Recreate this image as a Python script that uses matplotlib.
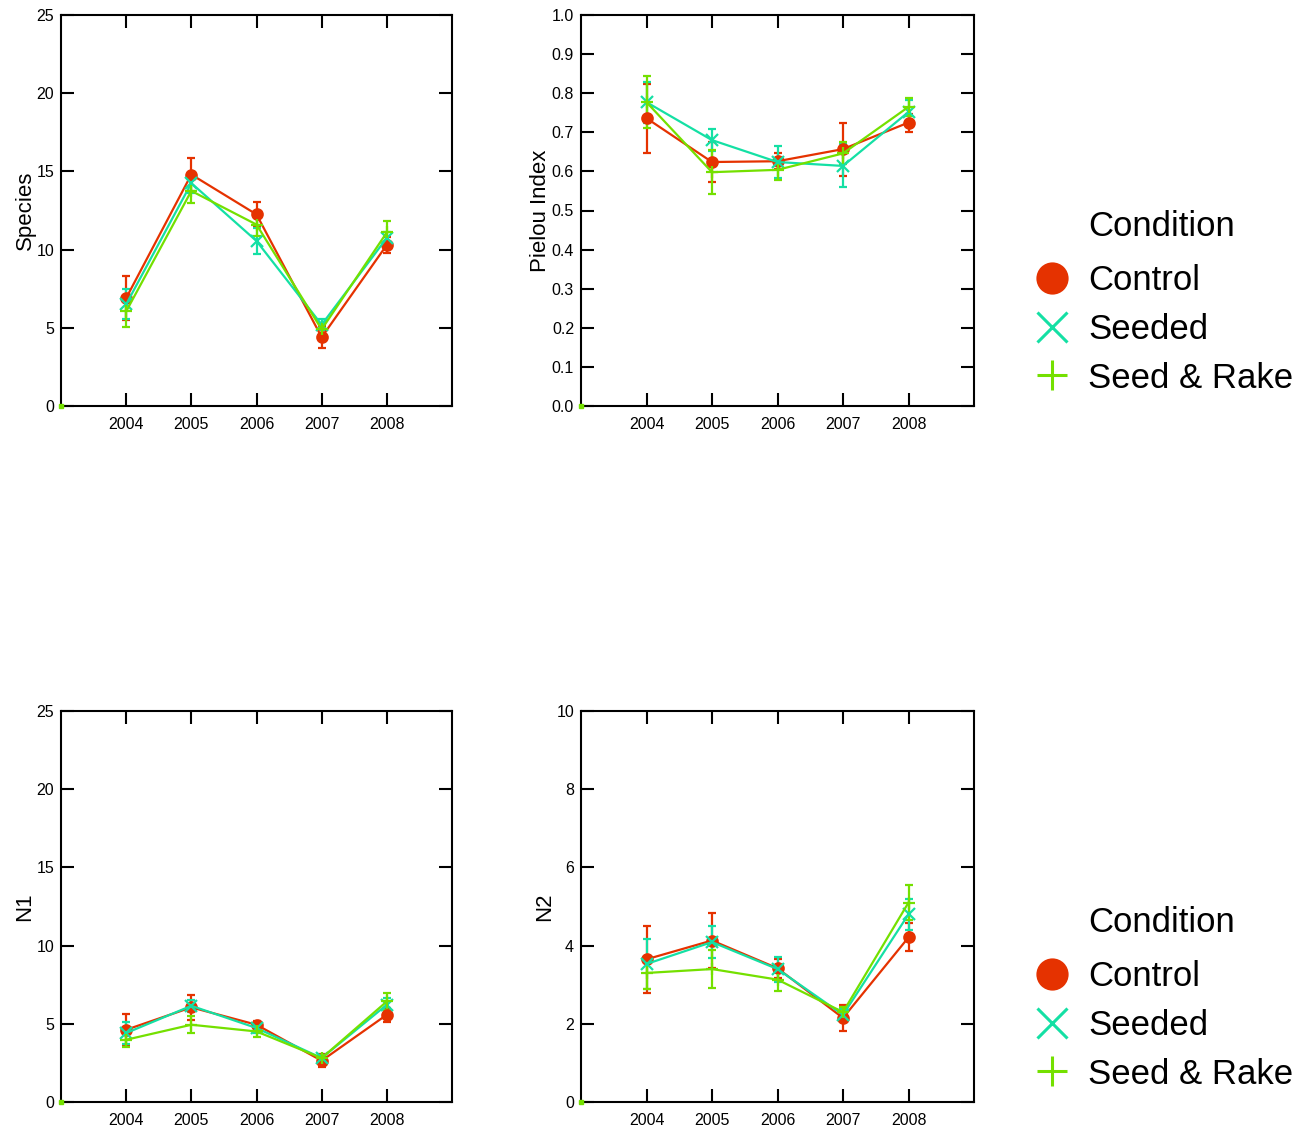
import matplotlib
matplotlib.use("Agg")
import matplotlib.pyplot as plt
from matplotlib.lines import Line2D

plt.rcParams['font.family'] = ['Liberation Sans', 'DejaVu Sans']

years = [2004, 2005, 2006, 2007, 2008]
conditions = ["Control", "Seeded", "Seed & Rake"]

# Species richness (mean, standard error)
species_control = [6.9, 14.8, 12.25, 4.4, 10.3]
species_control_se = [1.4, 1.05, 0.8, 0.7, 0.5]
species_seeded = [6.5, 14.25, 10.55, 5.2, 10.75]
species_seeded_se = [0.95, 0.65, 0.8, 0.35, 0.4]
species_rake = [6.05, 13.75, 11.6, 4.9, 11.1]
species_rake_se = [1.0, 0.8, 0.7, 0.4, 0.7]

# Pielou evenness
pielou_control = [0.736, 0.624, 0.626, 0.657, 0.725]
pielou_control_se = [0.088, 0.05, 0.02, 0.068, 0.023]
pielou_seeded = [0.777, 0.680, 0.624, 0.614, 0.752]
pielou_seeded_se = [0.052, 0.028, 0.04, 0.055, 0.03]
pielou_rake = [0.777, 0.598, 0.604, 0.646, 0.765]
pielou_rake_se = [0.066, 0.056, 0.027, 0.028, 0.024]

# Hill number N1
n1_control = [4.62, 6.05, 4.94, 2.64, 5.58]
n1_control_se = [1.0, 0.8, 0.25, 0.4, 0.45]
n1_seeded = [4.41, 6.15, 4.73, 2.81, 6.22]
n1_seeded_se = [0.7, 0.4, 0.3, 0.2, 0.4]
n1_rake = [3.98, 4.94, 4.51, 2.81, 6.43]
n1_rake_se = [0.45, 0.55, 0.35, 0.2, 0.55]

# Hill number N2
n2_control = [3.65, 4.13, 3.42, 2.15, 4.21]
n2_control_se = [0.85, 0.7, 0.25, 0.33, 0.36]
n2_seeded = [3.53, 4.09, 3.40, 2.23, 4.80]
n2_seeded_se = [0.65, 0.4, 0.32, 0.15, 0.4]
n2_rake = [3.30, 3.40, 3.13, 2.30, 5.10]
n2_rake_se = [0.4, 0.49, 0.28, 0.12, 0.45]

colors = {"Control": "#e53200", "Seeded": "#14e0a4", "Seed & Rake": "#74e000"}
markers = {"Control": "o", "Seeded": "x", "Seed & Rake": "+"}

panels = [
    ("Species", 25, [0, 5, 10, 15, 20, 25], ["0", "5", "10", "15", "20", "25"],
     [(species_control, species_control_se), (species_seeded, species_seeded_se),
      (species_rake, species_rake_se)]),
    ("Pielou Index", 1.0, [i / 10 for i in range(11)], [f"{i / 10:.1f}" for i in range(11)],
     [(pielou_control, pielou_control_se), (pielou_seeded, pielou_seeded_se),
      (pielou_rake, pielou_rake_se)]),
    ("N1", 25, [0, 5, 10, 15, 20, 25], ["0", "5", "10", "15", "20", "25"],
     [(n1_control, n1_control_se), (n1_seeded, n1_seeded_se), (n1_rake, n1_rake_se)]),
    ("N2", 10, [0, 2, 4, 6, 8, 10], ["0", "2", "4", "6", "8", "10"],
     [(n2_control, n2_control_se), (n2_seeded, n2_seeded_se), (n2_rake, n2_rake_se)]),
]

W, H = 1312, 1128
fig = plt.figure(figsize=(W / 100, H / 100), dpi=100)

boxes = [(61, 15, 391, 391), (581, 15, 393, 391), (61, 711, 391, 391), (581, 711, 393, 391)]

for (label, ymax, yticks, yticklabels, series), (px, py, pw, ph) in zip(panels, boxes):
    ax = fig.add_axes([px / W, 1 - (py + ph) / H, pw / W, ph / H])
    for cond, (vals, errs) in zip(conditions, series):
        c = colors[cond]
        m = markers[cond]
        ms = 7.5 if m == "o" else 8
        ax.errorbar(years, vals, yerr=errs, color=c, marker=m, markersize=ms,
                    markeredgewidth=1.6, linewidth=1.6, elinewidth=1.6,
                    capsize=3.2, capthick=1.6, zorder=3)
    ax.set_xlim(2003, 2009)
    ax.set_ylim(0, ymax)
    ax.set_xticks(years)
    ax.set_xticklabels([str(y) for y in years])
    ax.set_yticks(yticks)
    ax.set_yticklabels(yticklabels)
    ax.tick_params(direction="in", length=9.5, width=1.5, top=True, right=True,
                   labelsize=11.5, colors="black")
    ax.tick_params(axis="x", pad=8)
    ax.tick_params(axis="y", pad=5)
    for s in ax.spines.values():
        s.set_linewidth(1.5)
    ax.set_ylabel(label, fontsize=16, labelpad=0.5)
    # small marker sitting on the axis origin
    ax.plot([ax.get_xlim()[0]], [ax.get_ylim()[0]], "s", color=colors["Seed & Rake"],
            markersize=2.5, clip_on=False, zorder=4)

# Condition legends beside each row of panels
for y0 in (226, 922):
    fig.text(1088 / W, 1 - y0 / H, "Condition", fontsize=25, va="center", ha="left")
    for i, cond in enumerate(conditions):
        yy = y0 + 55 + i * 48.5
        size = 21 if cond == "Control" else 22
        fig.add_artist(Line2D([1052 / W], [1 - (yy - 3) / H], marker=markers[cond],
                              color=colors[cond], markersize=size,
                              markeredgewidth=2.2, linestyle="none",
                              transform=fig.transFigure))
        fig.text(1088 / W, 1 - yy / H, cond, fontsize=25, va="center", ha="left")

fig.savefig("out.png", dpi=100)
